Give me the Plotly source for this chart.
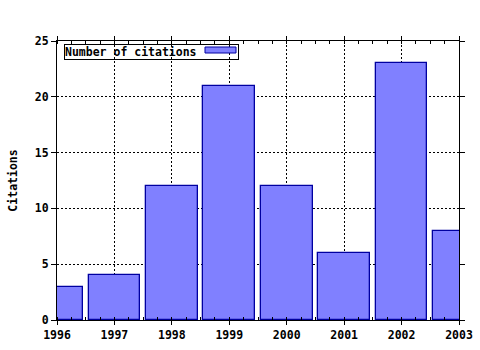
import plotly.graph_objects as go

years = [1996, 1997, 1998, 1999, 2000, 2001, 2002, 2003]
citations = [3, 4, 12, 21, 12, 6, 23, 8]
series_name = "Number of citations"
y_title = "Citations"

font = dict(family="DejaVu Sans Mono", size=11.5, color="black", weight="bold")

fig = go.Figure()
fig.add_trace(go.Bar(
    x=years, y=citations, name=series_name, width=0.9,
    marker=dict(color="#8080ff", line=dict(color="#0000a0", width=1.3)),
    showlegend=False,
))

fig.update_layout(
    width=480, height=350,
    margin=dict(l=57, r=21, t=41, b=30, autoexpand=False),
    paper_bgcolor="white", plot_bgcolor="white",
    font=font,
    bargap=0,
)
fig.update_xaxes(
    range=[1996, 2003], tickmode="linear", tick0=1996, dtick=1,
    showline=True, linecolor="black", linewidth=1, mirror="ticks",
    ticks="outside", ticklen=4, tickcolor="black",
    showgrid=True, gridcolor="black", griddash="2px,2px", gridwidth=1,
    minor=dict(dtick=0.25, ticks="inside", ticklen=3, tickcolor="black", showgrid=False),
    tickfont=font, zeroline=False, automargin=False,
)
fig.update_yaxes(
    range=[0, 25], tickmode="linear", tick0=0, dtick=5,
    showline=True, linecolor="black", linewidth=1, mirror="ticks",
    ticks="outside", ticklen=5, tickcolor="black",
    showgrid=True, gridcolor="black", griddash="2px,2px", gridwidth=1,
    tickfont=font, zeroline=False, automargin=False,
    title=dict(text=y_title, font=font, standoff=14),
)

# Legend drawn as a boxed annotation with a swatch on the right
fig.add_annotation(
    xref="paper", yref="paper", x=(64 - 57) / 402, y=1 - (44 - 41) / 279,
    xanchor="left", yanchor="top", showarrow=False,
    text=series_name + "      ", font=font, align="left",
    bordercolor="black", borderwidth=1, borderpad=0, bgcolor="rgba(0,0,0,0)",
)
fig.add_shape(
    type="rect", xref="paper", yref="paper", layer="above",
    x0=(205 - 57) / 402, x1=(236 - 57) / 402,
    y0=1 - (53 - 41) / 279, y1=1 - (47 - 41) / 279,
    fillcolor="#8080ff", line=dict(color="#0000a0", width=1),
)

fig.write_html("out.html")
